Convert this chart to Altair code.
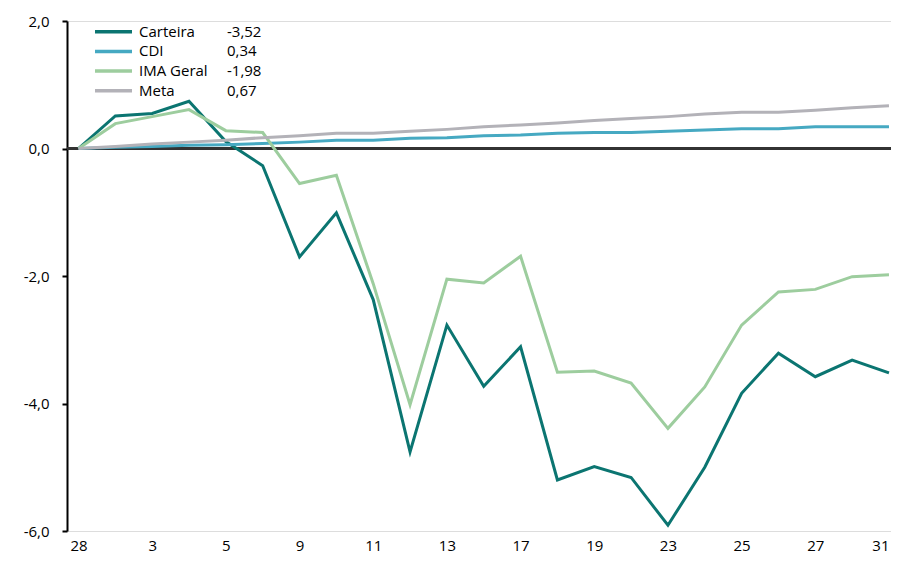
import altair as alt
import pandas as pd

days = ["28", "2", "3", "4", "5", "6", "9", "10", "11", "12", "13", "16",
        "17", "18", "19", "20", "23", "24", "25", "26", "27", "30", "31"]

carteira = [0.00, 0.51, 0.55, 0.74, 0.11, -0.27, -1.70, -1.01, -2.37, -4.76,
            -2.77, -3.73, -3.11, -5.20, -4.99, -5.16, -5.91, -5.00, -3.84,
            -3.21, -3.58, -3.32, -3.52]
cdi = [0.00, 0.02, 0.03, 0.05, 0.06, 0.08, 0.10, 0.13, 0.13, 0.16, 0.17, 0.20,
       0.21, 0.24, 0.25, 0.25, 0.27, 0.29, 0.31, 0.31, 0.34, 0.34, 0.34]
ima = [0.00, 0.39, 0.50, 0.61, 0.28, 0.25, -0.55, -0.42, -2.12, -4.02, -2.05,
       -2.11, -1.69, -3.51, -3.49, -3.68, -4.39, -3.74, -2.77, -2.25, -2.21,
       -2.01, -1.98]
meta = [0.00, 0.03, 0.07, 0.10, 0.13, 0.17, 0.20, 0.24, 0.24, 0.27, 0.30, 0.34,
        0.37, 0.40, 0.44, 0.47, 0.50, 0.54, 0.57, 0.57, 0.60, 0.64, 0.67]

names = ["Carteira", "CDI", "IMA Geral", "Meta"]
colors = ["#0b7571", "#46a9c2", "#9dcd9e", "#b3b2b8"]
series = [carteira, cdi, ima, meta]

rows = []
for name, vals in zip(names, series):
    for i, v in enumerate(vals):
        rows.append({"idx": i, "day": days[i], "serie": name, "valor": v})
df = pd.DataFrame(rows)

leg = pd.DataFrame({
    "row": list(range(len(names))),
    "serie": names,
    "txt": [f"{s[-1]:.2f}".replace(".", ",") for s in series],
})

FONT = "Open Sans"
color_scale = alt.Scale(domain=names, range=colors)
x_scale = alt.Scale(domain=[-0.312, 22.055], nice=False, zero=False)
y_scale = alt.Scale(domain=[-6, 2], nice=False)

label_expr_x = "[" + ",".join(f"'{d}'" for d in days) + "][datum.value]"

lines = alt.Chart(df).mark_line(strokeWidth=3).encode(
    x=alt.X("idx:Q", scale=x_scale,
            axis=alt.Axis(values=list(range(0, 23, 2)), labelExpr=label_expr_x,
                          domain=False, ticks=False, grid=False, title=None,
                          labelFont=FONT, labelFontSize=15, labelColor="#000000",
                          labelPadding=7, labelFlush=3)),
    y=alt.Y("valor:Q", scale=y_scale,
            axis=alt.Axis(values=[-6, -4, -2, 0, 2],
                          labelExpr="replace(replace(format(datum.value, '.1f'), '.', ','), '\u2212', '-')",
                          grid=False, title=None, domainColor="#000000",
                          domainWidth=2, tickColor="#000000", tickWidth=2,
                          tickSize=5, labelFont=FONT, labelFontSize=15,
                          labelColor="#000000", labelPadding=13)),
    color=alt.Color("serie:N", scale=color_scale, legend=None),
    order=alt.Order("idx:Q"),
)

zero = alt.Chart(df).mark_rule(color="#333333", strokeWidth=2).encode(
    y=alt.datum(0)
)

main = alt.layer(zero, lines)

leg_y = alt.Y("row:Q", scale=alt.Scale(domain=[0, 3], range=[10.8, 69.7]), axis=None)

leg_lines = alt.Chart(leg).mark_rule(strokeWidth=3.5).encode(
    x=alt.value(28), x2=alt.value(65), y=leg_y,
    color=alt.Color("serie:N", scale=color_scale, legend=None),
)
leg_names = alt.Chart(leg).mark_text(
    align="left", baseline="middle", font=FONT, fontSize=15, color="#000000"
).encode(x=alt.value(72), y=leg_y, text="serie:N")
leg_vals = alt.Chart(leg).mark_text(
    align="left", baseline="middle", font=FONT, fontSize=15, color="#000000"
).encode(x=alt.value(160), y=leg_y, text="txt:N")

legend = alt.layer(leg_lines, leg_names, leg_vals)

chart = alt.layer(main, legend).resolve_scale(
    y="independent"
).properties(
    width=824, height=510,
    autosize=alt.AutoSizeParams(type="none"),
    padding={"left": 59, "top": 13, "right": 0, "bottom": 26},
).configure_view(stroke=None).configure(background="#ffffff")

chart.save("out.html", embed_options={"renderer": "svg", "actions": False})
